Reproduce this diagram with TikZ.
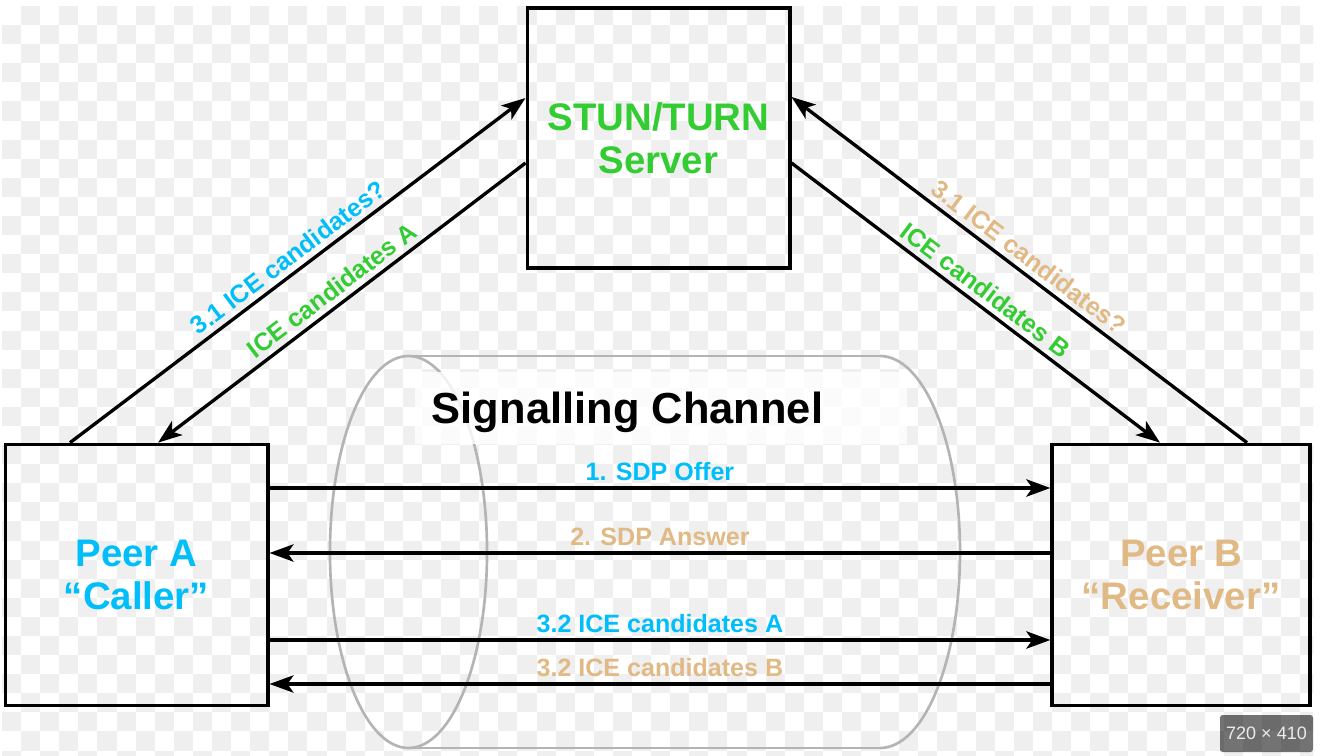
\documentclass[tikz,border=0pt]{standalone}
\usepackage{fontspec}
\setmainfont{Liberation Sans}
\usetikzlibrary{arrows.meta}

\definecolor{cblue}{RGB}{0,190,250}
\definecolor{cgreen}{RGB}{51,204,51}
\definecolor{ctan}{RGB}{224,185,133}
\definecolor{cchk}{RGB}{239,239,239}
\definecolor{ccyl}{RGB}{180,180,180}

\begin{document}
\begin{tikzpicture}[
  x=0.75pt, y=-0.75pt,
  >={Stealth[length=18pt, width=13pt, inset=4.5pt]},
  box/.style={draw, line width=2.5pt, align=center, minimum width=197pt, minimum height=196pt, font=\fontsize{28.8}{32.25}\selectfont\bfseries},
  lbl/.style={above, inner sep=4pt, font=\fontsize{18.8}{22}\selectfont\bfseries},
  arr/.style={->, line width=2.5pt},
  rarr/.style={<-, line width=2.5pt},
  cyl/.style={draw=ccyl, line width=2pt},
  checker/.style={fill=cchk}
]
\useasboundingbox (0,0) rectangle (1321,756);
\fill[white] (0,0) rectangle (1321,756);

% Hintergrund: Schachbrett
\begin{scope}
\clip (2,6) rectangle (1313,756);
\foreach \r in {0,...,39}
  \foreach \c in {0,2,...,68}{
    \pgfmathsetmacro\cx{2+19.09*(\c+mod(\r+1,2))}
    \fill[checker] (\cx,6+19.09*\r) rectangle ++(19.09,19.09);
  }
\end{scope}

% Zylinder (Signalling Channel)
\draw[cyl] (408.5,552) ellipse [x radius=58.9pt, y radius=147pt];
\draw[cyl] (408.5,356) -- (880,356);
\draw[cyl] (408.5,748) -- (880,748);
\begin{scope}
\clip (880,340) rectangle (1000,770);
\draw[cyl] (880,552) ellipse [x radius=60pt, y radius=147pt];
\end{scope}
\fill[white, fill opacity=.8] (415,372) rectangle (907,444);
\node[anchor=base, inner sep=0pt, font=\fontsize{32.6}{36}\selectfont\bfseries] (chan) at (627.5,423) {Signalling Channel};

% Knoten
\node[box, text=cgreen, minimum height=195pt] (stun) at (658.5,138) {STUN/TURN\\Server};
\node[box, text=cblue] (peerA) at (136.5,575) {Peer A\\“Caller”};
\node[box, text=ctan, minimum width=193.5pt] (peerB) at (1181,575) {Peer B\\“Receiver”};

% Pfeile zum STUN/TURN Server
\draw[arr] (peerA.north -| 70,0) -- node[lbl, sloped, text=cblue]{3.1 ICE candidates?} (stun.west |- 0,98);
\draw[rarr] (peerA.north -| 158,0) -- node[lbl, sloped, text=cgreen]{ICE candidates A} (stun.west |- 0,163);
\draw[rarr] (stun.east |- 0,97) -- node[lbl, sloped, text=ctan]{3.1 ICE candidates?} (peerB.north -| 1247,0);
\draw[arr] (stun.east |- 0,163) -- node[lbl, sloped, text=cgreen]{ICE candidates B} (peerB.north -| 1160,0);

% Pfeile im Signalling Channel
\draw[arr] (peerA.east |- 0,488) -- node[lbl, text=cblue]{1. SDP Offer} (peerB.west |- 0,488);
\draw[rarr] (peerA.east |- 0,553) -- node[lbl, text=ctan]{2. SDP Answer} (peerB.west |- 0,553);
\draw[arr] (peerA.east |- 0,640) -- node[lbl, text=cblue]{3.2 ICE candidates A} (peerB.west |- 0,640);
\draw[rarr] (peerA.east |- 0,684) -- node[lbl, text=ctan]{3.2 ICE candidates B} (peerB.west |- 0,684);

% Bildgroesse
\fill[black, fill opacity=.55, rounded corners=2pt] (1220,715) rectangle (1313,752);
\node[text=white!92!black, font=\fontsize{13.5}{16}\selectfont] (size) at (1266.5,733.5) {720 × 410};
\end{tikzpicture}
\end{document}
